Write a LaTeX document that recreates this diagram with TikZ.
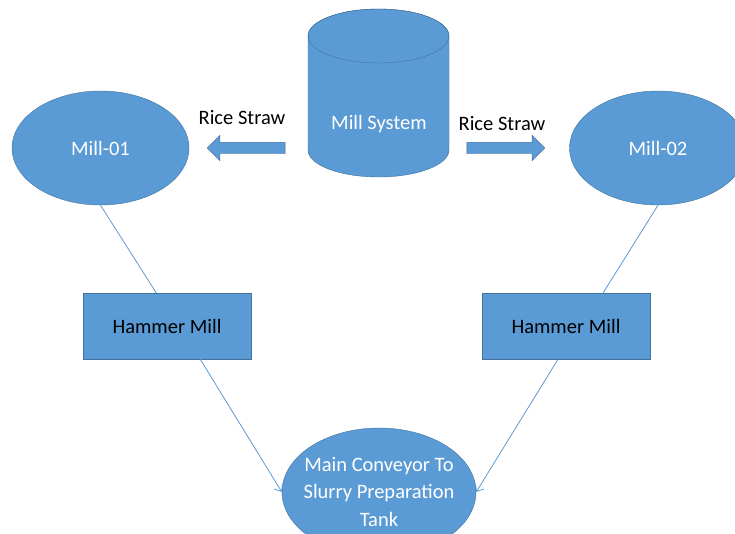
\documentclass[tikz,border=0pt]{standalone}
\usepackage{fontspec}
\setmainfont{Carlito}
\usetikzlibrary{shapes.geometric,shapes.arrows,arrows.meta}
\definecolor{millblue}{HTML}{5B9BD5}
\definecolor{edgeblue}{HTML}{41719C}

\begin{document}
\begin{tikzpicture}
      [x=1pt, y=-1pt,
       every node/.style={font=\fontsize{20.5}{27.5}\selectfont},
       mill node/.style={ellipse, draw=edgeblue, fill=millblue, text=white, minimum width=177pt, minimum height=114pt},
       hammer node/.style={rectangle, draw=edgeblue, fill=millblue, minimum width=168pt, minimum height=66pt},
       feed arrow/.style={single arrow, draw=edgeblue, fill=millblue, inner xsep=0pt, inner ysep=5.5pt, minimum height=78pt, minimum width=25pt, single arrow head extend=7pt},
       flow line/.style={draw=millblue, line width=0.8pt}]
      \clip (0,0) rectangle (735,533);

      % the storage drum in the middle
      \filldraw[draw=edgeblue, fill=millblue] (308,36) -- (308,150)
            arc[start angle=180, end angle=0, x radius=70.5, y radius=27]
            -- (449,36)
            arc[start angle=0, end angle=-180, x radius=70.5, y radius=27] -- cycle;
      \draw[edgeblue] (378.5,36) ellipse [x radius=70.5, y radius=27];
      \node[text=white] (drum) at (379,124) {Mill System};

      \node[feed arrow, shape border rotate=180] (toleft) at (249,148) {};
      \node[feed arrow] (toright) at (503,148) {};
      \node (strawl) at (242,118) {Rice Straw};
      \node (strawr) at (502,124) {Rice Straw};

      \node[mill node] (m1) at (100.5,148) {Mill-01};
      \node[mill node] (m2) at (658,148) {Mill-02};

      \node[hammer node] (h1) at (167,326) {Hammer Mill};
      \node[hammer node] (h2) at (566,326.5) {Hammer Mill};

      \node[ellipse, draw=edgeblue, fill=millblue, text=white, align=center,
            inner xsep=-9pt, inner ysep=0pt,
            minimum width=194pt, minimum height=128pt] (conv) at (379,492)
            {Main Conveyor To\\Slurry Preparation\\Tank};

      \draw[flow line] (m1.south) -- (h1.108);
      \draw[flow line] (m2.south) -- (h2.42);
      \draw[flow line, -{Straight Barb[length=6pt, width=10pt]}] (h1.315) -- (conv.west);
      \draw[flow line, -{Straight Barb[length=6pt, width=10pt]}] (h2.256) -- (conv.east);
\end{tikzpicture}
\end{document}
